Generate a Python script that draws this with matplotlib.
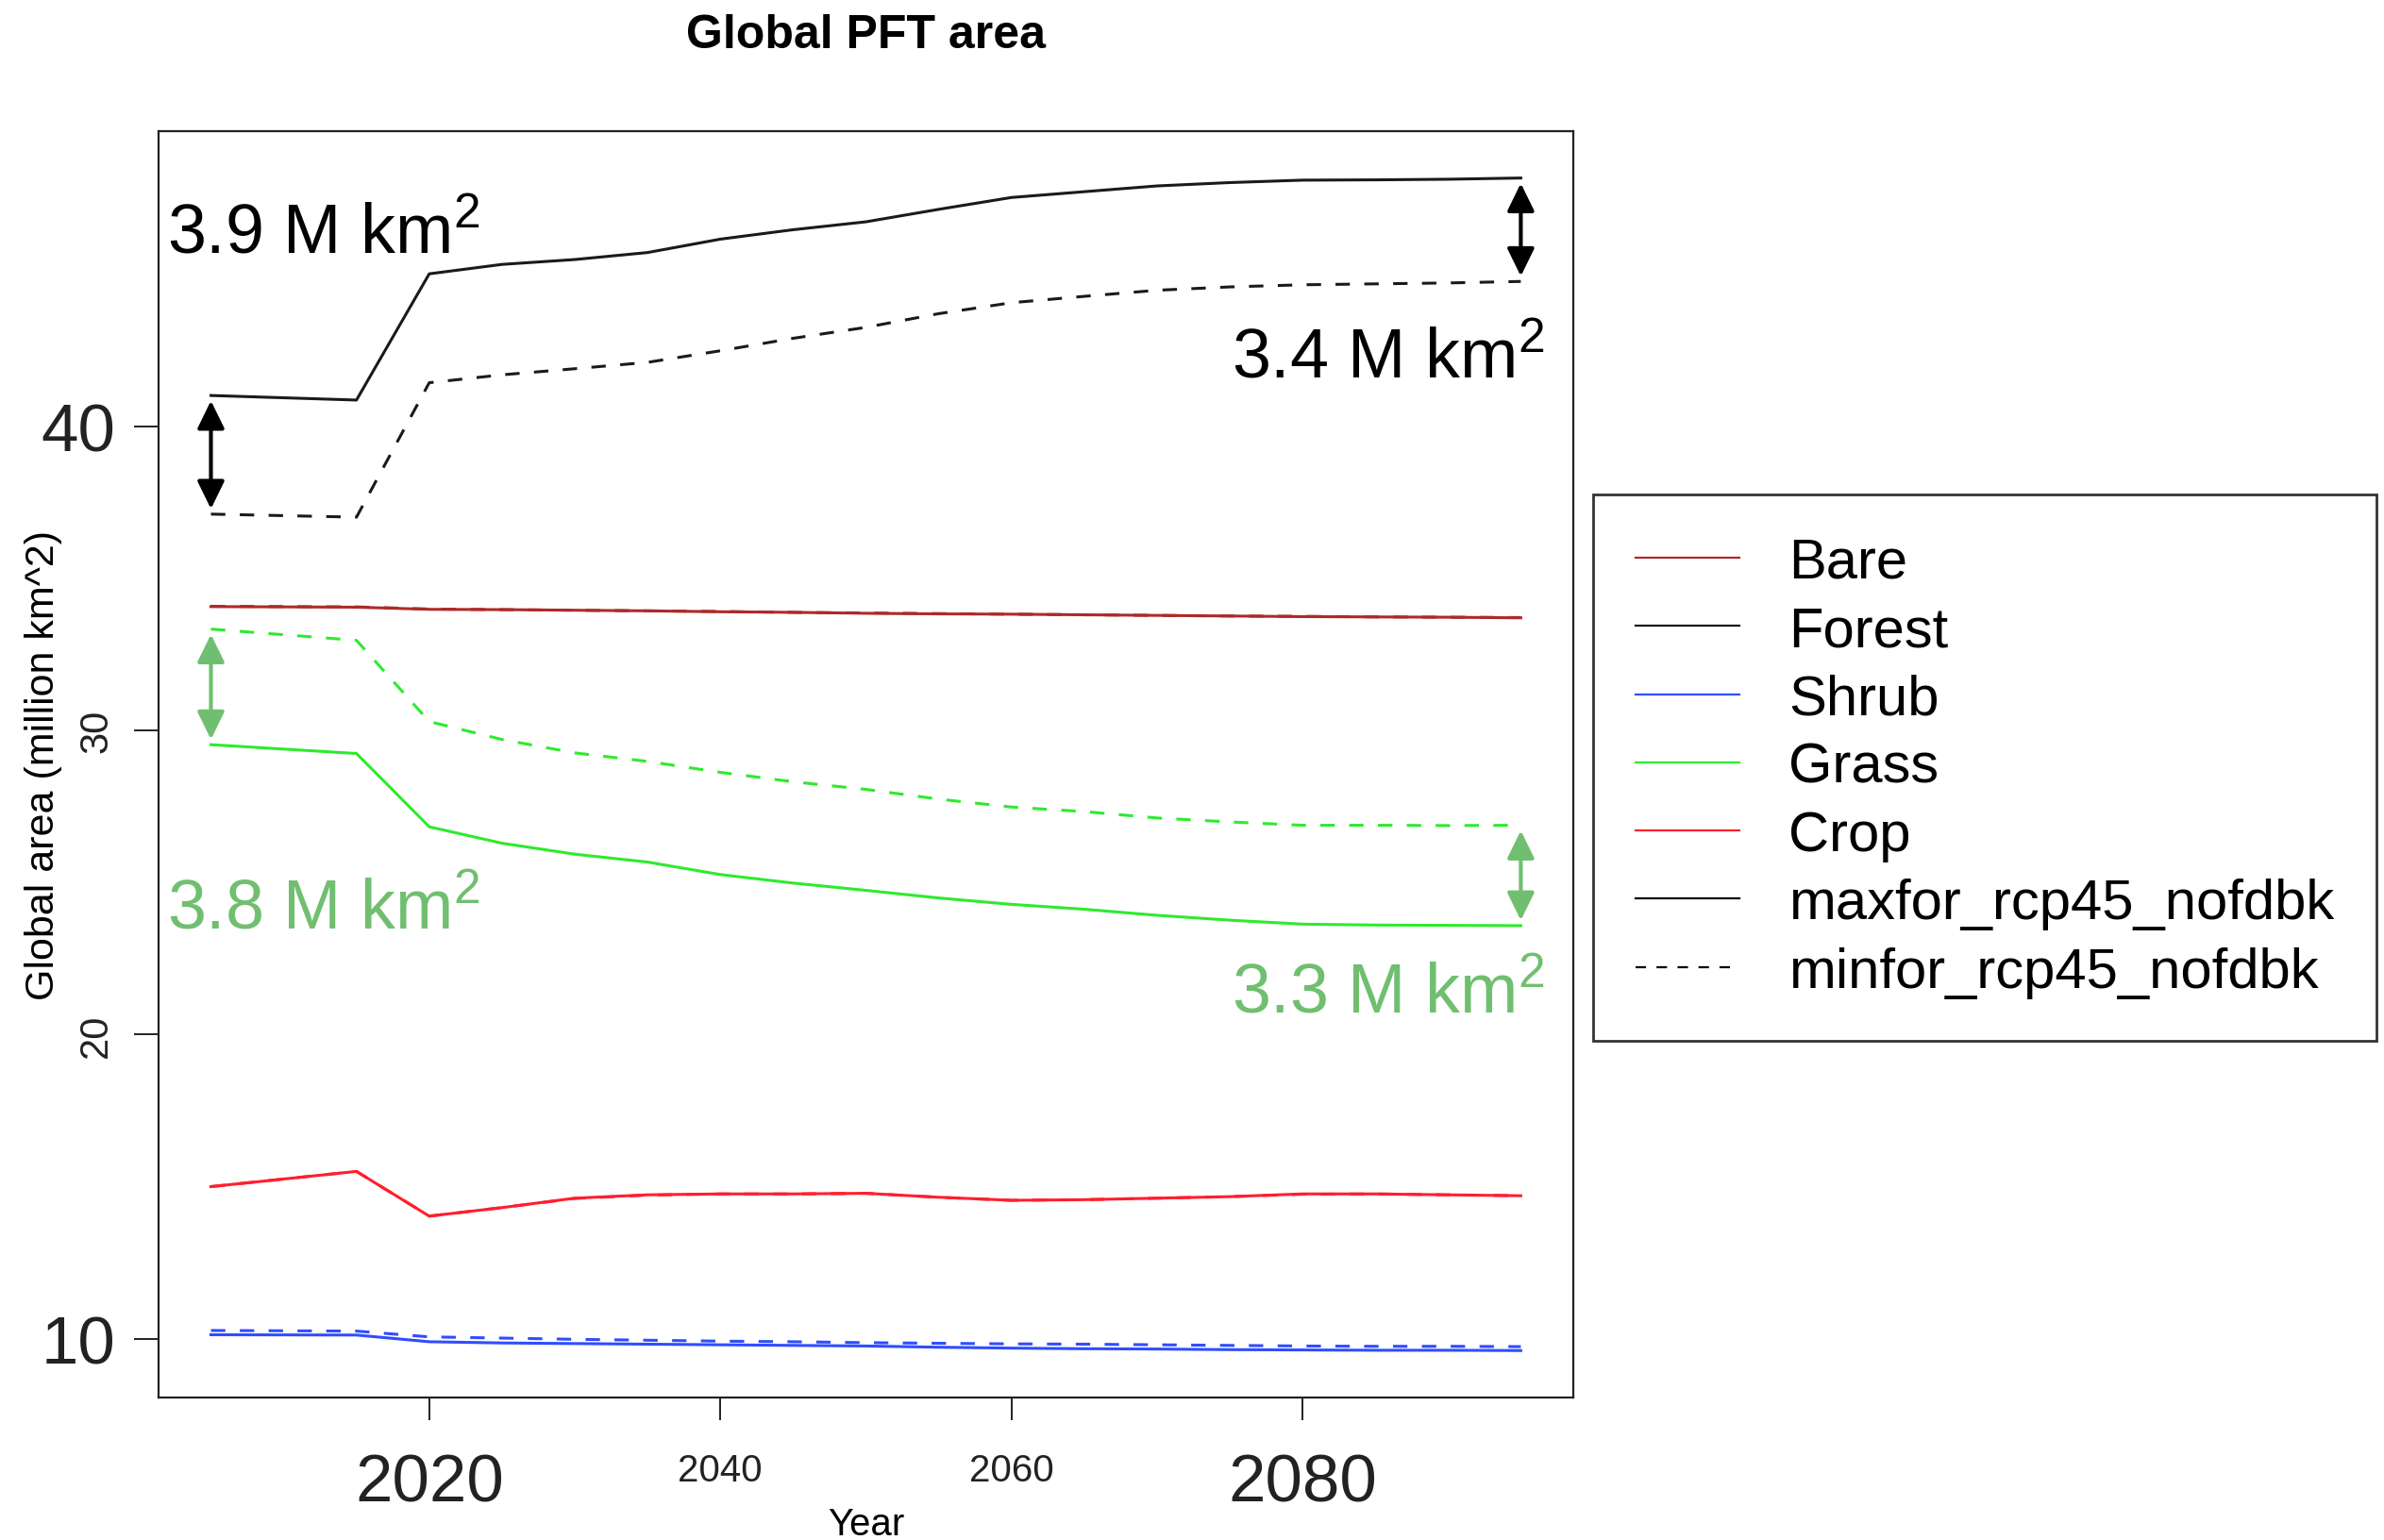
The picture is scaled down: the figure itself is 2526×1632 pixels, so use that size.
import matplotlib
matplotlib.use("Agg")
import matplotlib.pyplot as plt
from matplotlib.lines import Line2D

plt.rcParams['font.family'] = ['Liberation Sans', 'DejaVu Sans']
plt.rcParams['mathtext.fontset'] = 'custom'
plt.rcParams['mathtext.rm'] = 'Liberation Sans'
plt.rcParams['mathtext.default'] = 'regular'

# global PFT area, million km^2, two forest-cover scenarios
years = [2005, 2015, 2020, 2025, 2030, 2035, 2040, 2045, 2050,
         2055, 2060, 2065, 2070, 2075, 2080, 2085, 2090, 2095]

forest_max = [41.01, 40.86, 45.01, 45.32, 45.48, 45.71, 46.15, 46.46, 46.72,
              47.13, 47.52, 47.71, 47.90, 48.01, 48.09, 48.10, 48.12, 48.16]
forest_min = [37.11, 37.01, 41.43, 41.69, 41.89, 42.10, 42.48, 42.89, 43.25,
              43.70, 44.06, 44.27, 44.47, 44.58, 44.65, 44.68, 44.71, 44.76]

grass_max = [29.53, 29.24, 26.83, 26.29, 25.93, 25.67, 25.26, 24.98, 24.74,
             24.49, 24.28, 24.12, 23.92, 23.76, 23.63, 23.60, 23.59, 23.58]
grass_min = [33.33, 32.96, 30.29, 29.70, 29.26, 28.98, 28.62, 28.31, 28.06,
             27.74, 27.48, 27.33, 27.12, 26.99, 26.88, 26.88, 26.87, 26.88]

bare_max = [34.07, 34.05, 33.98, 33.97, 33.95, 33.93, 33.90, 33.88, 33.85,
            33.83, 33.82, 33.80, 33.78, 33.76, 33.74, 33.73, 33.72, 33.70]
bare_min = [34.08, 34.06, 33.99, 33.97, 33.95, 33.93, 33.91, 33.88, 33.86,
            33.84, 33.82, 33.80, 33.78, 33.76, 33.75, 33.73, 33.72, 33.71]

crop_max = [15.00, 15.50, 14.03, 14.31, 14.62, 14.73, 14.76, 14.76, 14.78,
            14.65, 14.55, 14.57, 14.62, 14.67, 14.76, 14.76, 14.73, 14.70]
crop_min = [15.00, 15.50, 14.03, 14.31, 14.61, 14.72, 14.76, 14.76, 14.78,
            14.65, 14.55, 14.57, 14.62, 14.67, 14.75, 14.76, 14.73, 14.70]

shrub_max = [10.13, 10.12, 9.90, 9.86, 9.84, 9.82, 9.80, 9.78, 9.76,
             9.72, 9.69, 9.67, 9.66, 9.64, 9.63, 9.62, 9.62, 9.61]
shrub_min = [10.27, 10.25, 10.06, 10.02, 9.98, 9.95, 9.92, 9.90, 9.87,
             9.85, 9.83, 9.82, 9.80, 9.78, 9.76, 9.75, 9.75, 9.74]

pft_names = ['Bare', 'Forest', 'Shrub', 'Grass', 'Crop']
pft_colors = ['#ad2a2a', '#1a1a1a', '#2f4dff', '#2eea2e', '#ff1f2e']
series_max = [bare_max, forest_max, shrub_max, grass_max, crop_max]
series_min = [bare_min, forest_min, shrub_min, grass_min, crop_min]
scenarios = ['maxfor_rcp45_nofdbk', 'minfor_rcp45_nofdbk']

xtick_vals = [2020, 2040, 2060, 2080]
xtick_big = [True, False, False, True]
ytick_vals = [10, 20, 30, 40]
ytick_big = [True, False, False, True]

# forest / grass gap between scenarios at the start and end year
gap_notes = [
    ('3.9', forest_max, forest_min, 0, 'black'),
    ('3.4', forest_max, forest_min, -1, 'black'),
    ('3.8', grass_min, grass_max, 0, '#70bf70'),
    ('3.3', grass_min, grass_max, -1, '#70bf70'),
]

fig = plt.figure(figsize=(25.26, 16.33), dpi=100)
ax = fig.add_axes([0.0665, 0.0925, 0.5934, 0.8218])

dash = (0, (5, 5))
for col, ymax, ymin in zip(pft_colors, series_max, series_min):
    ax.plot(years, ymax, color=col, lw=2.2, solid_joinstyle='round')
    ax.plot(years, ymin, color=col, lw=2.2, linestyle=dash)

ax.margins(x=0.04, y=0.04)
ax.autoscale_view()
ax.set_xlim(ax.get_xlim())
ax.set_ylim(ax.get_ylim())

for label, top, bottom, i, col in gap_notes:
    ax.annotate('', xy=(years[i], bottom[i]), xytext=(years[i], top[i]),
                arrowprops=dict(arrowstyle='<|-|>,head_length=0.45,head_width=0.22',
                                color=col, lw=3, mutation_scale=40,
                                shrinkA=4, shrinkB=4))

note_kw = dict(fontsize=53, va='baseline')
ax.text(2002.0, 45.72, gap_notes[0][0] + ' M km$^2$', color='black', ha='left', **note_kw)
ax.text(2096.6, 41.62, gap_notes[1][0] + ' M km$^2$', color='black', ha='right', **note_kw)
ax.text(2002.0, 23.50, gap_notes[2][0] + ' M km$^2$', color='#70bf70', ha='left', **note_kw)
ax.text(2096.6, 20.75, gap_notes[3][0] + ' M km$^2$', color='#70bf70', ha='right', **note_kw)

ax.set_xticks(xtick_vals, [str(v) for v in xtick_vals])
ax.set_yticks(ytick_vals, [str(v) for v in ytick_vals])
for lbl, big in zip(ax.get_xticklabels(), xtick_big):
    lbl.set_fontsize(51 if big else 29)
for lbl, big in zip(ax.get_yticklabels(), ytick_big):
    lbl.set_fontsize(51 if big else 30)
    if not big:
        lbl.set_rotation(90)
        lbl.set_va('center')
ax.tick_params(axis='x', length=17, width=1.4, pad=25, colors='#222222')
ax.tick_params(axis='y', length=19, width=1.4, pad=14, colors='#222222')
for sp in ax.spines.values():
    sp.set_linewidth(1.6)
    sp.set_color('#222222')

ax.set_title('Global PFT area', fontsize=36, fontweight='bold', pad=64)
ax.set_xlabel('Year', fontsize=29, va='top')
ax.xaxis.set_label_coords(0.5, -0.0857)
ax.set_ylabel('Global area (million km^2)', fontsize=31)
ax.yaxis.set_label_coords(-0.068, 0.5)

handles = [Line2D([], [], color=c, lw=1.6) for c in pft_colors]
handles += [Line2D([], [], color='black', lw=1.6),
            Line2D([], [], color='black', lw=1.6, linestyle=dash)]
leg = ax.legend(handles, pft_names + scenarios, loc='upper left',
                bbox_to_anchor=(0.6683, 0.6785), bbox_transform=fig.transFigure,
                fontsize=43, frameon=True, fancybox=False, edgecolor='black',
                handlelength=1.85, handletextpad=0.87, borderpad=0.75,
                labelspacing=0.29, borderaxespad=0)
leg.get_frame().set_linewidth(2)

fig.savefig('out.png', dpi=100, facecolor='white')
